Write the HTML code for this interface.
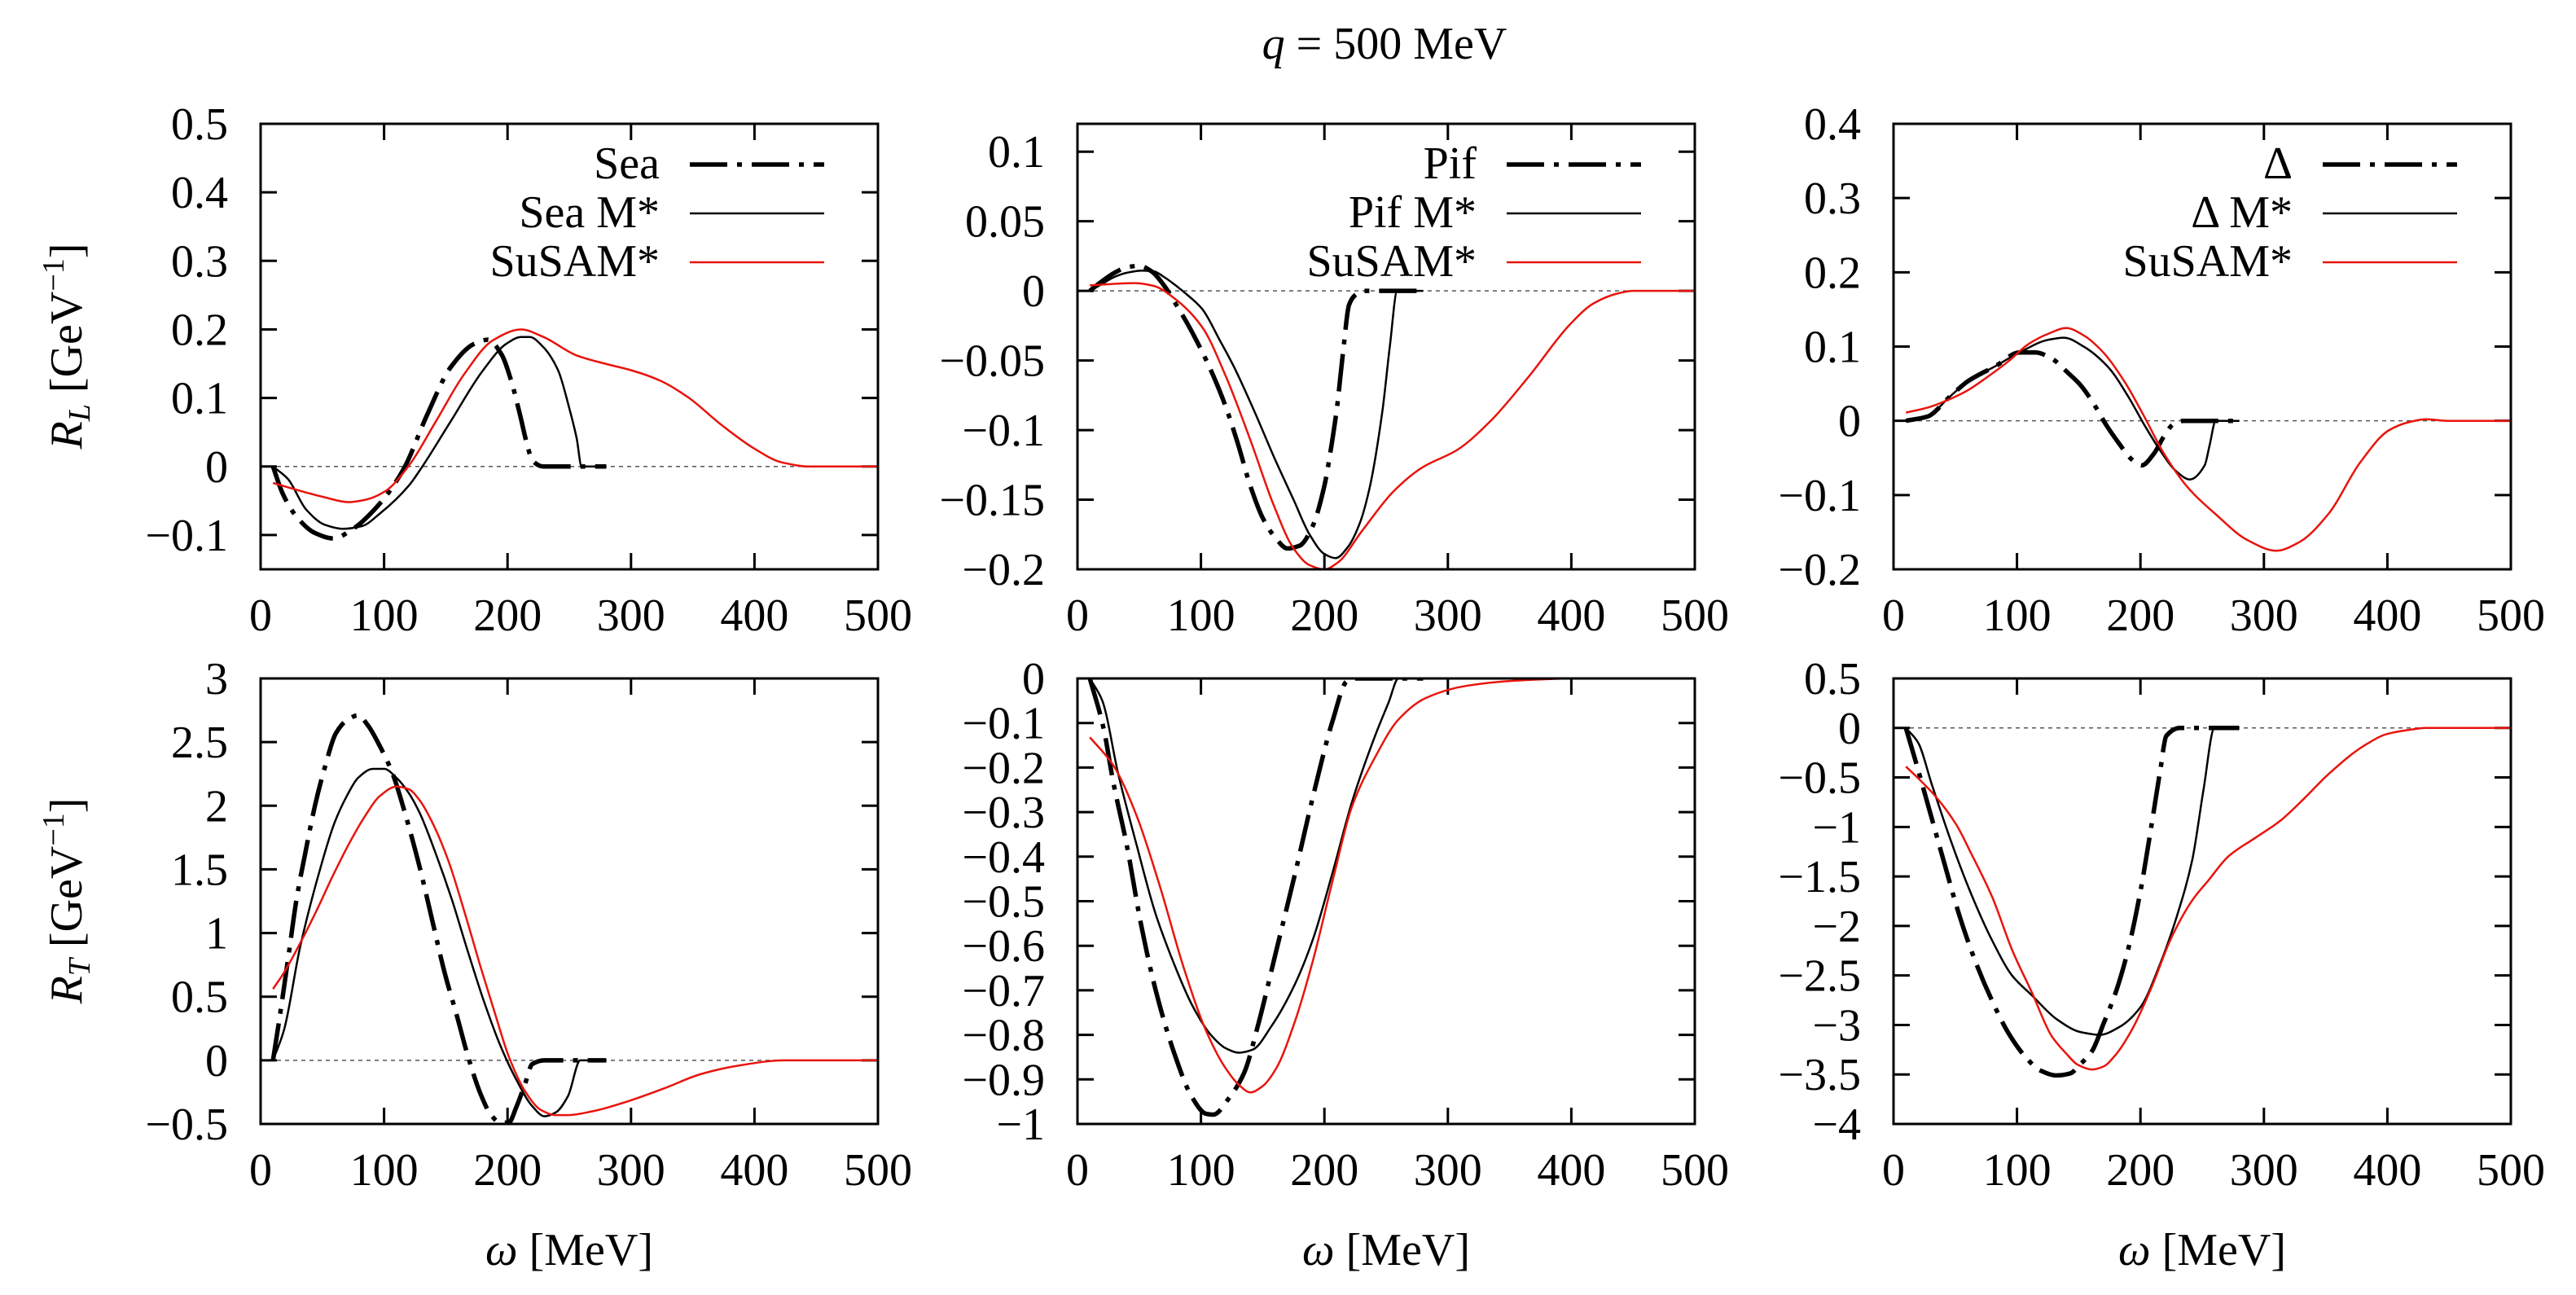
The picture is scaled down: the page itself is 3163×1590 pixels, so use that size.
<!DOCTYPE html>
<html><head><meta charset="utf-8"><style>
html,body{margin:0;padding:0;background:#fff;}
svg{display:block;font-family:"Liberation Serif","DejaVu Serif",serif;}
</style></head><body>
<svg id="fig" xmlns="http://www.w3.org/2000/svg" width="3163" height="1590" viewBox="0 0 3163 1590">
<rect width="3163" height="1590" fill="#fff"/>
<text x="1700" y="72" font-size="56" text-anchor="middle"><tspan font-style="italic">q</tspan> = 500 MeV</text>
<text transform="translate(100,425) rotate(-90)" font-size="56" text-anchor="middle"><tspan font-style="italic">R</tspan><tspan font-style="italic" font-size="38" dy="10">L</tspan><tspan dy="-10"> [GeV</tspan><tspan font-size="38" dy="-22">−1</tspan><tspan dy="22">]</tspan></text>
<text transform="translate(100,1106) rotate(-90)" font-size="56" text-anchor="middle"><tspan font-style="italic">R</tspan><tspan font-style="italic" font-size="38" dy="10">T</tspan><tspan dy="-10"> [GeV</tspan><tspan font-size="38" dy="-22">−1</tspan><tspan dy="22">]</tspan></text>
<text x="699" y="1553" font-size="56" text-anchor="middle"><tspan font-style="italic">ω</tspan> [MeV]</text>
<text x="1702" y="1553" font-size="56" text-anchor="middle"><tspan font-style="italic">ω</tspan> [MeV]</text>
<text x="2704" y="1553" font-size="56" text-anchor="middle"><tspan font-style="italic">ω</tspan> [MeV]</text>
</svg>
<script>
// ---------- data ----------
const xTicks = [0,100,200,300,400,500];
const legendNames1 = ["Sea","Sea M*","SuSAM*"];
const legendNames2 = ["Pif","Pif M*","SuSAM*"];
const legendNames3 = ["Δ","Δ M*","SuSAM*"];

// Top-left R_L Sea
const tlYTicks = [0.5,0.4,0.3,0.2,0.1,0,-0.1];
const tlSeaW = [10,18,29,44,59,74,97,116,135,154,173,184,195,203,210,216,220,229,280];
const tlSeaV = [0,-0.04,-0.073,-0.097,-0.105,-0.092,-0.053,-0.003,0.076,0.145,0.179,0.185,0.164,0.125,0.076,0.031,0.009,0,0];
const tlMW = [10,22,37,52,67,82,97,120,131,154,180,199,211,218,229,241,250,256,260,280];
const tlMV = [0,-0.018,-0.063,-0.085,-0.091,-0.087,-0.068,-0.028,0,0.066,0.14,0.179,0.189,0.189,0.174,0.14,0.085,0.041,0,0];
const tlSW = [10,33,52,71,86,101,120,142,165,188,211,229,256,279,301,324,347,373,400,422,445,500];
const tlSV = [-0.024,-0.036,-0.045,-0.052,-0.048,-0.036,0.001,0.066,0.135,0.184,0.2,0.189,0.162,0.15,0.14,0.125,0.1,0.061,0.026,0.006,0,0];

// Top-middle R_L Pif
const tmYTicks = [0.1,0.05,0,-0.05,-0.1,-0.15,-0.2];
const tmPW = [10,20,30,40,50,60,70,80,90,100,110,120,130,140,150,160,170,180,190,200,205,210,215,220,225,232,280];
const tmPV = [0,0.007,0.013,0.017,0.018,0.014,0.004,-0.01,-0.025,-0.042,-0.061,-0.083,-0.11,-0.14,-0.163,-0.177,-0.185,-0.183,-0.17,-0.14,-0.115,-0.085,-0.045,-0.01,-0.003,0,0];
const tmMW = [10,20,30,40,52,62,70,78,85,101,115,127,143,159,175,188,200,209,219,229,237,247,253,259,280];
const tmMV = [0,0.005,0.01,0.013,0.0145,0.014,0.01,0.005,0,-0.013,-0.035,-0.055,-0.086,-0.119,-0.15,-0.175,-0.189,-0.192,-0.184,-0.166,-0.14,-0.086,-0.04,0,0];
const tmSW = [10,46,62,78,101,120,140,159,175,188,200,211,230,256,279,308,334,366,399,418,437,450,500];
const tmSV = [0.004,0.0056,0.0035,-0.005,-0.026,-0.061,-0.107,-0.154,-0.185,-0.197,-0.2,-0.195,-0.173,-0.144,-0.127,-0.114,-0.094,-0.061,-0.024,-0.009,-0.002,0,0];

// Top-right R_L Delta
const trYTicks = [0.4,0.3,0.2,0.1,0,-0.1,-0.2];
const trDW = [10,28,44,60,83,102,115,128,141,151,164,172,182,193,201,211,219,227,235,281];
const trDV = [0,0.006,0.03,0.053,0.074,0.092,0.092,0.084,0.065,0.049,0.018,-0.005,-0.029,-0.052,-0.06,-0.044,-0.021,-0.004,0,0];
const trMW = [10,28,44,60,83,102,125,138,154,174,190,203,216,229,240,252,256,261,280];
const trMV = [0,0.006,0.03,0.053,0.074,0.092,0.109,0.112,0.1,0.072,0.033,-0.005,-0.04,-0.068,-0.079,-0.06,-0.033,0,0];
const trSW = [10,28,44,60,76,93,109,125,140,154,170,187,203,219,239,261,287,310,329,352,378,401,417,431,449,500];
const trSV = [0.011,0.018,0.028,0.041,0.059,0.08,0.103,0.117,0.125,0.115,0.092,0.053,0.006,-0.044,-0.091,-0.126,-0.161,-0.175,-0.163,-0.126,-0.056,-0.013,-0.002,0.002,0,0];

// Bottom-left R_T Sea
const blYTicks = [3,2.5,2,1.5,1,0.5,0,-0.5];
const blSeaW = [10,15,23,29,36,44,52,61,71,79,87,97,107,117,129,139,149,159,168,178,186,194,201,207,214,220,230,280];
const blSeaV = [0,0.31,0.85,1.26,1.62,2.0,2.3,2.57,2.68,2.71,2.63,2.46,2.25,1.94,1.51,1.1,0.69,0.35,0.03,-0.26,-0.42,-0.49,-0.49,-0.37,-0.19,-0.03,0,0];
const blMW = [10,19,32,49,60,70,79,91,100,110,120,129,142,155,168,181,194,207,220,230,239,249,259,280];
const blMV = [0,0.24,0.89,1.53,1.87,2.08,2.22,2.29,2.29,2.22,2.1,1.94,1.62,1.26,0.85,0.46,0.12,-0.15,-0.36,-0.44,-0.41,-0.28,0,0];
const blSW = [10,19,32,45,58,71,84,97,110,120,129,139,152,165,178,191,201,214,227,239,249,269,298,327,356,388,424,500];
const blSV = [0.56,0.69,0.92,1.17,1.44,1.69,1.91,2.08,2.15,2.13,2.04,1.87,1.57,1.17,0.74,0.33,0.03,-0.24,-0.39,-0.43,-0.43,-0.4,-0.32,-0.22,-0.11,-0.04,0,0];

// Bottom-middle R_T Pif
const bmYTicks = [0,-0.1,-0.2,-0.3,-0.4,-0.5,-0.6,-0.7,-0.8,-0.9,-1];
const bmPW = [10,21,29,40,51,63,78,93,104,110,123,135,146,161,176,191,207,218,225,280];
const bmPV = [0,-0.11,-0.233,-0.375,-0.545,-0.696,-0.838,-0.941,-0.977,-0.979,-0.941,-0.885,-0.781,-0.611,-0.441,-0.262,-0.092,-0.007,0,0];
const bmMW = [10,20,33,48,63,78,93,108,120,131,142,157,176,191,207,222,241,252,260,280];
const bmMV = [0,-0.049,-0.214,-0.375,-0.526,-0.639,-0.734,-0.8,-0.83,-0.84,-0.833,-0.781,-0.687,-0.583,-0.432,-0.28,-0.129,-0.054,0,0];
const bmSW = [10,29,48,67,86,104,120,131,140,150,161,176,191,207,222,241,260,282,316,354,403,410];
const bmSV = [-0.132,-0.195,-0.309,-0.469,-0.649,-0.79,-0.875,-0.913,-0.929,-0.915,-0.875,-0.771,-0.63,-0.45,-0.29,-0.177,-0.092,-0.044,-0.016,-0.005,0,0];

// Bottom-right R_T Delta
const brYTicks = [0.5,0,-0.5,-1,-1.5,-2,-2.5,-3,-3.5,-4];
const brDW = [10,18,28,41,54,67,80,93,106,119,132,143,151,161,170,180,190,200,209,216,221,232,280];
const brDV = [0,-0.34,-0.78,-1.36,-1.92,-2.38,-2.76,-3.08,-3.31,-3.46,-3.51,-3.49,-3.4,-3.26,-2.99,-2.67,-2.24,-1.65,-0.98,-0.43,-0.08,0,0];
const brMW = [10,20,31,47,63,80,96,112,132,151,167,183,200,216,229,242,251,260,280];
const brMV = [0,-0.15,-0.57,-1.16,-1.68,-2.15,-2.5,-2.7,-2.94,-3.07,-3.1,-3.02,-2.82,-2.38,-1.92,-1.33,-0.63,0,0];
const brSW = [10,21,34,51,63,80,96,112,128,140,149,161,170,180,193,209,225,242,255,271,293,313,332,352,381,400,423,430,500];
const brSV = [-0.39,-0.52,-0.69,-0.98,-1.27,-1.71,-2.24,-2.67,-3.11,-3.29,-3.4,-3.45,-3.42,-3.3,-3.05,-2.62,-2.12,-1.74,-1.54,-1.3,-1.11,-0.94,-0.72,-0.47,-0.18,-0.06,-0.01,0,0];

// ---------- drawing ----------
const NS = "http://www.w3.org/2000/svg";
const svg = document.getElementById('fig');
const FW = 758, FH = 547;
function mk(tag, attrs, parent){
  const e = document.createElementNS(NS, tag);
  for (const k in attrs) e.setAttribute(k, attrs[k]);
  (parent||svg).appendChild(e);
  return e;
}
function fmt(v){ return (v<0?'−':'') + String(Math.abs(v)); }
// monotone cubic (Fritsch–Carlson) path — no overshoot
function smoothPath(pts){
  const n = pts.length;
  const dx = [], m = [], t = new Array(n);
  for (let i=0;i<n-1;i++){ dx[i] = pts[i+1][0]-pts[i][0]; m[i] = (pts[i+1][1]-pts[i][1])/dx[i]; }
  t[0] = m[0]; t[n-1] = m[n-2];
  for (let i=1;i<n-1;i++){
    if (m[i-1]*m[i] <= 0) t[i] = 0;
    else t[i] = 3*(dx[i-1]+dx[i]) / ((2*dx[i]+dx[i-1])/m[i-1] + (dx[i]+2*dx[i-1])/m[i]);
  }
  let d = 'M' + pts[0][0].toFixed(1) + ',' + pts[0][1].toFixed(1);
  for (let i=0;i<n-1;i++){
    const h = dx[i]/3;
    d += ' C' + (pts[i][0]+h).toFixed(1)+','+(pts[i][1]+t[i]*h).toFixed(1)+' '+(pts[i+1][0]-h).toFixed(1)+','+(pts[i+1][1]-t[i+1]*h).toFixed(1)+' '+pts[i+1][0].toFixed(1)+','+pts[i+1][1].toFixed(1);
  }
  return d;
}
let clipId = 0;
function panel(id, x0, y0, yMin, yMax, yTicks, names, series){
  const sx = w => x0 + w/500*FW;
  const sy = v => y0 + (yMax - v)/(yMax - yMin)*FH;
  const g = mk('g', {});
  
  
  const cid = 'clip' + (clipId++);
  const cp = mk('clipPath', {id: cid}, g);
  mk('rect', {x:x0, y:y0, width:FW, height:FH}, cp);
  const zl = mk('line', {x1:x0, x2:x0+FW, y1:sy(0), y2:sy(0), stroke:'#555', 'stroke-width':1.5, 'stroke-dasharray':'5 5'}, g);
  
  
  yTicks.forEach(v => {
    const y = sy(v);
    const t = mk('path', {d:`M${x0},${y}h20M${x0+FW},${y}h-20`, stroke:'#000', 'stroke-width':3}, g);
    
    
    const lb = mk('text', {x:x0-40, y:y+19, 'font-size':56, 'text-anchor':'end'}, g);
    lb.textContent = fmt(v);
    
    
  });
  xTicks.forEach(w => {
    const x = sx(w);
    const t = mk('path', {d:`M${x},${y0}v20M${x},${y0+FH}v-20`, stroke:'#000', 'stroke-width':3}, g);
    
    
    const lb = mk('text', {x:x, y:y0+FH+75, 'font-size':56, 'text-anchor':'middle'}, g);
    lb.textContent = String(w);
    
    
  });
  const styles = [
    {stroke:'#000', 'stroke-width':5.5, 'stroke-dasharray':'46 12 6 12'},
    {stroke:'#000', 'stroke-width':2.5},
    {stroke:'#e8140c', 'stroke-width':2.5}
  ];
  const snames = ['series-bare','series-mstar','series-susam'];
  series.forEach((s, i) => {
    const pts = s[0].map((w, k) => [sx(w), sy(s[1][k])]);
    const p = mk('path', Object.assign({d:smoothPath(pts), fill:'none', 'clip-path':`url(#${cid})`, 'stroke-linejoin':'round'}, styles[i]), g);
    
    
    if (names.length) {
      const ly = y0 + 50 + i*60;
      const lt = mk('text', {x:x0+490, y:ly+17, 'font-size':56, 'text-anchor':'end'}, g);
      lt.textContent = names[i];
      
      
      const ll = mk('line', Object.assign({x1:x0+527, x2:x0+692, y1:ly, y2:ly}, styles[i]), g);
      
      
    }
  });
  const fr = mk('rect', {x:x0, y:y0, width:FW, height:FH, fill:'none', stroke:'#000', 'stroke-width':3}, g);
  
  
}
const X1 = 320, X2 = 1323, X3 = 2325, Y1 = 152, Y2 = 833;
panel('panel-rl-sea', X1, Y1, -0.15, 0.5, tlYTicks, legendNames1, [[tlSeaW,tlSeaV],[tlMW,tlMV],[tlSW,tlSV]]);
panel('panel-rl-pif', X2, Y1, -0.2, 0.12, tmYTicks, legendNames2, [[tmPW,tmPV],[tmMW,tmMV],[tmSW,tmSV]]);
panel('panel-rl-delta', X3, Y1, -0.2, 0.4, trYTicks, legendNames3, [[trDW,trDV],[trMW,trMV],[trSW,trSV]]);
panel('panel-rt-sea', X1, Y2, -0.5, 3, blYTicks, [], [[blSeaW,blSeaV],[blMW,blMV],[blSW,blSV]]);
panel('panel-rt-pif', X2, Y2, -1, 0, bmYTicks, [], [[bmPW,bmPV],[bmMW,bmMV],[bmSW,bmSV]]);
panel('panel-rt-delta', X3, Y2, -4, 0.5, brYTicks, [], [[brDW,brDV],[brMW,brMV],[brSW,brSV]]);
</script>
</body></html>
